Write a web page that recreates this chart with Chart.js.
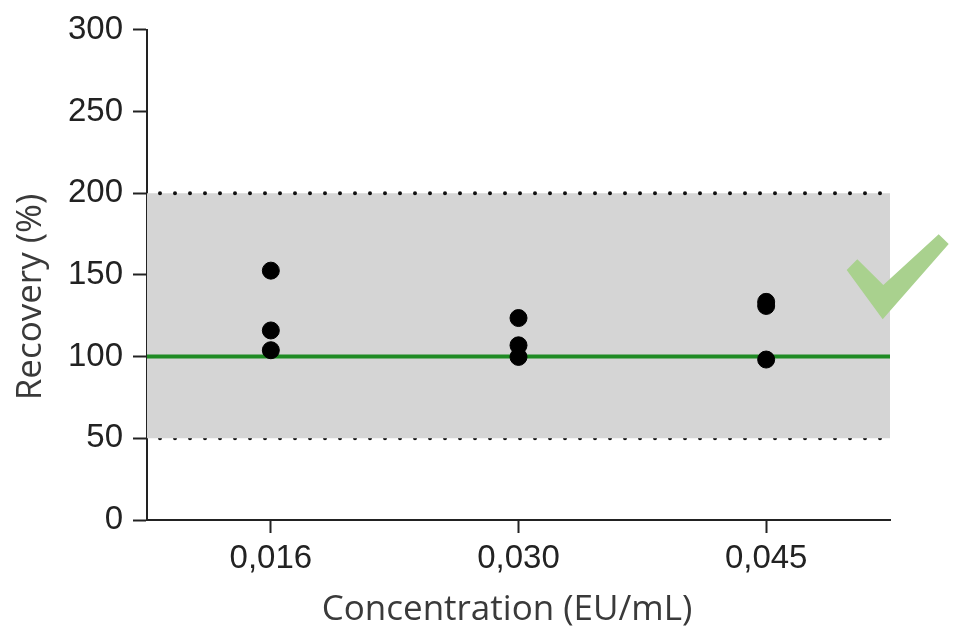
<!DOCTYPE html>
<html>
<head>
<meta charset="utf-8">
<script src="https://cdn.jsdelivr.net/npm/chart.js@4/dist/chart.umd.min.js"></script>
<style>
  html, body { margin: 0; padding: 0; background: #fff; }
  #wrap { width: 957px; height: 632px; position: relative; }
</style>
</head>
<body>
<div id="wrap"><canvas id="recoveryChart"></canvas></div>
<script>
// concentrations on the x axis
const categories = ["0,016", "0,030", "0,045"];
// recovery (%) of the replicates, one list per concentration
const recovery016 = [152.6, 116, 103.9];
const recovery030 = [123.6, 106.9, 99.8];
const recovery045 = [133.5, 131, 98.2];
const yTicks = [0, 50, 100, 150, 200, 250, 300];
// acceptance range and target
const lowerLimit = 50;
const upperLimit = 200;
const target = 100;

const xMin = -0.5;
const xMax = categories.length - 0.5;

const points = [recovery016, recovery030, recovery045].flatMap((vals, i) =>
  vals.map((v) => ({ x: i, y: v }))
);

const tickFont = { family: "'Liberation Sans', Arial, sans-serif", size: 33 };
const titleFamily = "'Open Sans', sans-serif";

// axis titles (both a little off the axis middle) and the green tick mark
const extras = {
  id: "extras",
  afterDraw(chart) {
    const ctx = chart.ctx;
    ctx.save();
    ctx.fillStyle = "#3a3a3a";
    ctx.textAlign = "center";
    ctx.textBaseline = "middle";
    ctx.font = "35px " + titleFamily;
    ctx.fillText("Concentration (EU/mL)", 507, 610);
    ctx.translate(31, 297);
    ctx.rotate(-Math.PI / 2);
    ctx.fillText("Recovery (%)", 0, 0);
    ctx.restore();

    ctx.save();
    ctx.fillStyle = "#a9d18e";
    ctx.beginPath();
    ctx.moveTo(846.7, 270);
    ctx.lineTo(857.3, 259.3);
    ctx.lineTo(883.3, 285);
    ctx.lineTo(938.7, 234.3);
    ctx.lineTo(948.7, 244);
    ctx.lineTo(882.7, 319.3);
    ctx.closePath();
    ctx.fill();
    ctx.restore();
  },
};

const limitLine = (y, fill) => ({
  type: "line",
  data: [{ x: xMin, y: y }, { x: xMax, y: y }],
  borderColor: "#111",
  borderWidth: 4,
  borderDash: [0, 15],
  borderDashOffset: 2,
  borderCapStyle: "round",
  backgroundColor: "#d5d5d5",
  fill: fill,
  pointRadius: 0,
  order: 3,
});

new Chart(document.getElementById("recoveryChart"), {
  type: "scatter",
  data: {
    datasets: [
      limitLine(upperLimit, "+1"),
      limitLine(lowerLimit, false),
      {
        type: "line",
        data: [{ x: xMin, y: target }, { x: xMax, y: target }],
        borderColor: "#1f8b24",
        borderWidth: 4,
        pointRadius: 0,
        fill: false,
        order: 2,
      },
      {
        data: points,
        backgroundColor: "#000",
        borderColor: "#000",
        pointRadius: 8.5,
        pointHoverRadius: 8.5,
        order: 1,
      },
    ],
  },
  options: {
    responsive: true,
    maintainAspectRatio: false,
    animation: false,
    layout: { padding: { top: 24, right: 67, left: 0, bottom: 0 } },
    plugins: {
      legend: { display: false },
      tooltip: { enabled: false },
    },
    scales: {
      x: {
        type: "linear",
        min: xMin,
        max: xMax,
        afterBuildTicks: (scale) => {
          scale.ticks = categories.map((c, i) => ({ value: i }));
        },
        afterFit: (scale) => {
          scale.height = 112;
        },
        ticks: {
          callback: (v) => categories[v],
          font: tickFont,
          color: "#222",
          padding: 6,
          maxRotation: 0,
        },
        grid: {
          drawOnChartArea: false,
          tickLength: 13,
          tickWidth: 2,
          tickColor: "#222",
        },
        border: { color: "#222", width: 2 },
      },
      y: {
        min: 0,
        max: 300,
        afterBuildTicks: (scale) => {
          scale.ticks = yTicks.map((v) => ({ value: v }));
        },
        afterFit: (scale) => {
          scale.width = 147;
        },
        ticks: {
          font: tickFont,
          color: "#222",
          padding: 10,
        },
        grid: {
          drawOnChartArea: false,
          tickLength: 14,
          tickWidth: 2,
          tickColor: "#222",
        },
        border: { color: "#222", width: 2 },
      },
    },
  },
  plugins: [extras],
});
</script>
</body>
</html>
